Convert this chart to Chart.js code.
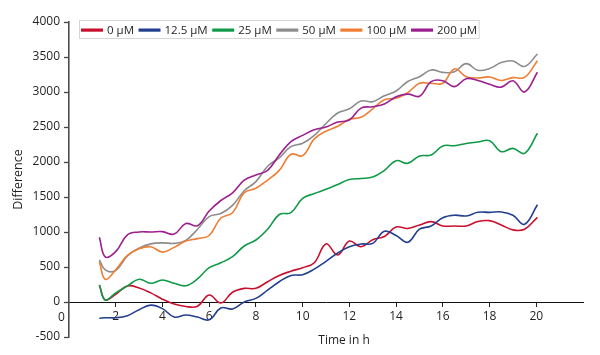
<!DOCTYPE html>
<html>
<head>
<meta charset="utf-8">
<script src="https://cdn.jsdelivr.net/npm/chart.js@4.4.1/dist/chart.umd.min.js"></script>
<style>
html,body{margin:0;padding:0;background:#fff;}
#wrap{position:relative;width:600px;height:355px;}
</style>
</head>
<body>
<div id="wrap"><canvas id="c"></canvas></div>
<script>
// ---- data ----
const seriesLabels = ['0 µM', '12.5 µM', '25 µM', '50 µM', '100 µM', '200 µM'];
const times = [1.3, 1.55, 2, 2.5, 3, 3.5, 4, 4.5, 5, 5.5, 6, 6.5, 7, 7.5, 8, 8.5, 9, 9.5, 10, 10.5,
               11, 11.5, 12, 12.5, 13, 13.5, 14, 14.5, 15, 15.5, 16, 16.5, 17, 17.5, 18, 18.5, 19, 19.5, 20.05];
const uM0 = [243, 29, 110, 230, 200, 130, 40, -30, -65, -60, 100, -15, 140, 195, 195, 290, 380, 440, 490, 560,
             830, 671, 870, 790, 890, 935, 1070, 1050, 1100, 1148, 1086, 1086, 1086, 1150, 1162, 1100, 1030, 1040, 1210];
const uM12_5 = [-233, -225, -225, -195, -110, -45, -95, -215, -186, -215, -255, -85, -100, 0, 52, 170, 290, 380, 390, 470,
                580, 700, 790, 828, 838, 1010, 950, 853, 1040, 1086, 1205, 1240, 1229, 1281, 1281, 1286, 1240, 1110, 1390];
const uM25 = [243, 29, 130, 230, 325, 267, 314, 267, 232, 330, 490, 560, 648, 800, 886, 1040, 1250, 1276, 1480, 1550,
              1610, 1680, 1750, 1765, 1785, 1880, 2019, 1981, 2086, 2100, 2230, 2233, 2265, 2285, 2305, 2148, 2195, 2124, 2410];
const uM50 = [600, 460, 450, 660, 770, 830, 845, 838, 880, 1040, 1220, 1265, 1380, 1590, 1720, 1940, 2060, 2220, 2267, 2380,
              2550, 2700, 2760, 2870, 2862, 2945, 3015, 3150, 3219, 3315, 3280, 3290, 3405, 3310, 3335, 3420, 3443, 3365, 3543];
const uM100 = [575, 324, 460, 665, 760, 790, 712, 780, 870, 905, 950, 1200, 1276, 1560, 1625, 1740, 1880, 2110, 2090, 2330,
               2440, 2510, 2610, 2638, 2760, 2890, 2910, 2990, 3124, 3124, 3125, 3330, 3219, 3200, 3215, 3165, 3205, 3210, 3448];
const uM200 = [925, 645, 720, 960, 1000, 1000, 1005, 970, 1120, 1090, 1300, 1450, 1560, 1740, 1815, 1880, 2100, 2290, 2380, 2460,
               2500, 2570, 2600, 2770, 2790, 2830, 2933, 2970, 2940, 3148, 3162, 3077, 3190, 3165, 3110, 3070, 3160, 3000, 3282];
const seriesValues = [uM0, uM12_5, uM25, uM50, uM100, uM200];
const xTicksMin = 0, xTicksMax = 22, xStep = 2;
const yTicksMin = -500, yTicksMax = 4000, yStep = 500;
const xTitle = 'Time in h';
const yTitle = 'Difference';

// ---- styling ----
const colors = ['#c8102e', '#233f8f', '#109a47', '#8c8c8c', '#ef7d34', '#9c1f8f'];
const FONT = "'Open Sans', 'Noto Sans', sans-serif";
const TEXT = '#231f20';

const datasets = seriesLabels.map((lab, i) => ({
  label: lab,
  data: times.map((t, k) => ({x: t, y: seriesValues[i][k]})),
  borderColor: colors[i],
  backgroundColor: colors[i],
  borderWidth: 1.6,
  pointRadius: 0,
  tension: 0.4,
  fill: false,
  order: seriesLabels.length - i
}));

const extras = {
  id: 'extras',
  afterDraw(chart) {
    const ctx = chart.ctx;
    const xs = chart.scales.x, ys = chart.scales.y;
    ctx.save();
    // x-axis origin label
    ctx.fillStyle = TEXT;
    ctx.font = "12px " + FONT;
    ctx.textAlign = 'center';
    ctx.textBaseline = 'middle';
    ctx.fillText(String(xTicksMin), xs.left - 7.5, ys.getPixelForValue(0) + 16);
    // x-axis title
    ctx.fillText(xTitle, 344, 341);
    // legend
    ctx.font = "11.5px " + FONT;
    ctx.textAlign = 'left';
    let x = 81;
    const yMid = 30;
    const items = [];
    chart.data.datasets.forEach((ds, i) => {
      const w = ctx.measureText(ds.label).width;
      items.push({x, w, ds});
      x += 22 + 4 + w + 4.5;
    });
    const boxRight = x - 4.5 + 2;
    ctx.strokeStyle = '#d6d6d6';
    ctx.lineWidth = 1;
    ctx.strokeRect(79.5, 20.5, boxRight - 79.5, 18);
    items.forEach(it => {
      ctx.fillStyle = it.ds.borderColor;
      ctx.fillRect(it.x, yMid - 1.5, 22, 3.2);
      ctx.fillStyle = TEXT;
      ctx.fillText(it.ds.label, it.x + 26, yMid + 0.5);
    });
    ctx.restore();
  }
};

new Chart(document.getElementById('c'), {
  type: 'line',
  data: {datasets},
  plugins: [extras],
  options: {
    responsive: true,
    maintainAspectRatio: false,
    animation: false,
    layout: {padding: {top: 22, right: 17, bottom: 18, left: 0}},
    plugins: {legend: {display: false}, tooltip: {enabled: false}},
    scales: {
      x: {
        type: 'linear',
        min: xTicksMin, max: xTicksMax,
        position: {y: 0},
        border: {color: '#111', width: 1},
        grid: {
          drawOnChartArea: false, drawTicks: true, tickLength: 4, tickWidth: 1,
          tickColor: (c) => (c.tick && (c.tick.value === xTicksMin || c.tick.value === xTicksMax)) ? 'rgba(0,0,0,0)' : '#222'
        },
        ticks: {
          stepSize: xStep, autoSkip: false, maxRotation: 0, padding: 3,
          color: TEXT, font: {family: FONT, size: 12},
          callback: (v) => (v === xTicksMin || v === xTicksMax) ? '' : String(v)
        },
        title: {display: false}
      },
      y: {
        min: yTicksMin, max: yTicksMax,
        border: {color: '#4d4d4d', width: 1.6},
        grid: {drawOnChartArea: false, drawTicks: true, tickLength: 5, tickColor: '#444', tickWidth: 1.3},
        ticks: {stepSize: yStep, padding: 4, color: TEXT, font: {family: FONT, size: 12},
                callback: (v) => String(v)},
        title: {display: true, text: yTitle, color: TEXT, font: {family: FONT, size: 12.5}, padding: {top: 11, bottom: 0}},
        afterFit: (s) => { s.width = 69; }
      }
    }
  }
});
</script>
</body>
</html>
